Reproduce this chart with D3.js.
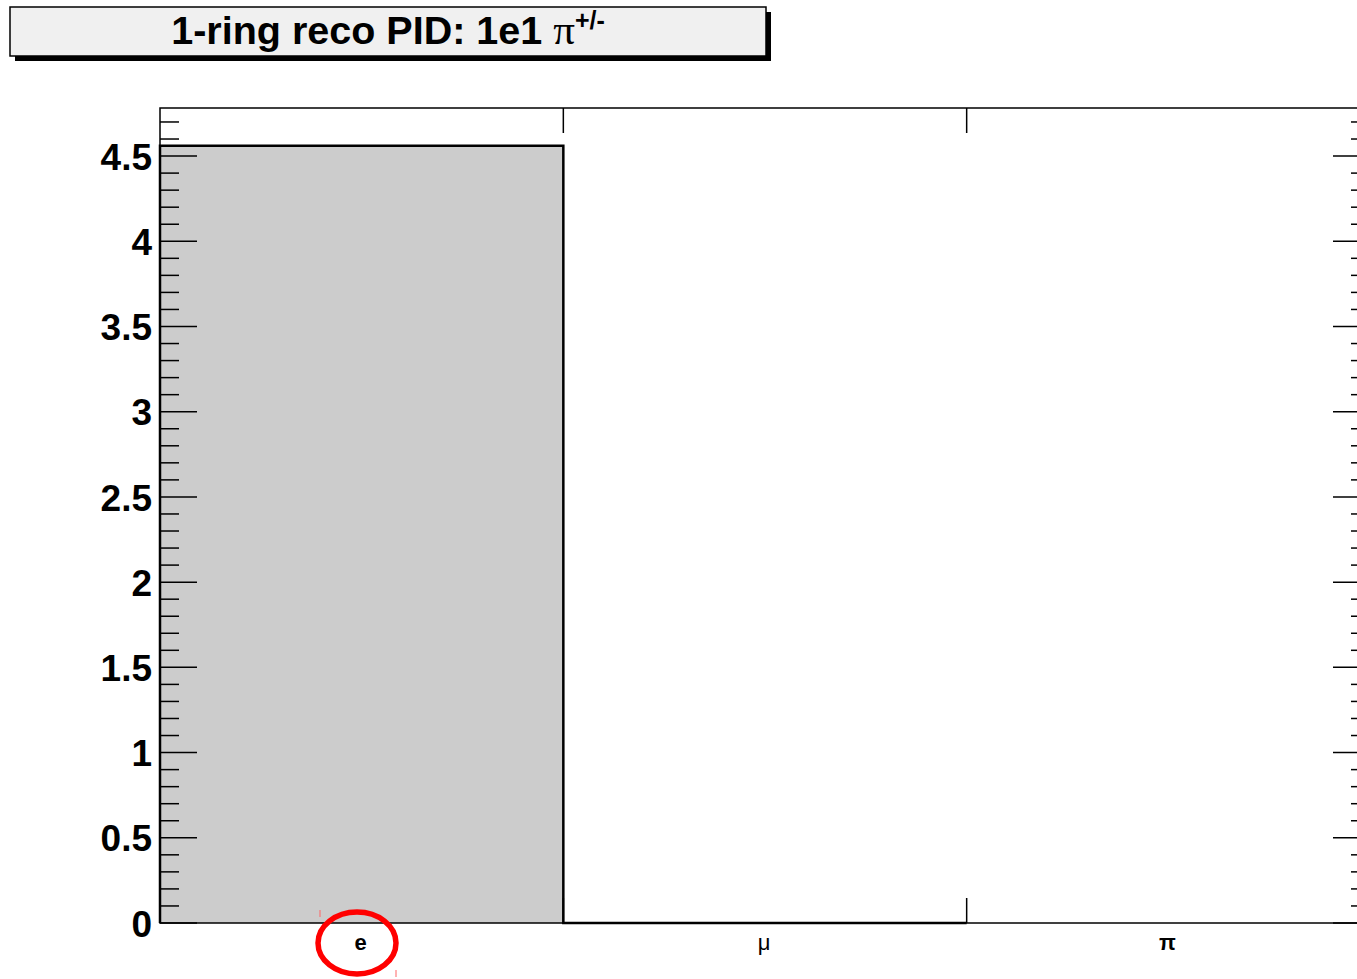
<!DOCTYPE html>
<html>
<head>
<meta charset="utf-8">
<script src="https://cdn.jsdelivr.net/npm/d3@7"></script>
<style>
  body { margin: 0; background: #fff; }
  svg { display: block; }
</style>
</head>
<body>
<svg id="chart"></svg>
<script>
// 1-ring reco PID histogram

const categories = ["e", "\u03bc", "\u03c0"];
const counts = [4.56, 0, null];
const yTickValues = [0, 0.5, 1, 1.5, 2, 2.5, 3, 3.5, 4, 4.5];
const yTickLabels = ["0", "0.5", "1", "1.5", "2", "2.5", "3", "3.5", "4", "4.5"];

function drawChart(){
  let width = 1357;
  let height = 979;
  let svg = d3.select('#chart')
    .attr("width", width)
    .attr("height", height);

  // Frame of the plotting area (right edge runs past the window).
  let frame = {left: 160, top: 108, right: 1370, bottom: 923};

  let xScale = d3.scaleBand()
    .domain(categories)
    .range([frame.left, frame.right])
    .padding(0);
  let yScale = d3.scaleLinear()
    .domain([0, 4.782])
    .range([frame.bottom, frame.top]);

  // Histogram bars, filled grey.
  let bins = categories.map((c, i) => ({cat: c, value: counts[i]}))
    .filter(d => d.value !== null);
  svg.append('g')
    .selectAll('rect')
    .data(bins)
    .join('rect')
    .attr("x", d => xScale(d.cat))
    .attr("y", d => yScale(d.value))
    .attr("width", xScale.bandwidth())
    .attr("height", d => yScale(0) - yScale(d.value))
    .attr("fill", "#cccccc");

  // Histogram outline as a step line.
  let pts = [];
  bins.forEach(d => {
    pts.push([xScale(d.cat), yScale(d.value)]);
    pts.push([xScale(d.cat) + xScale.bandwidth(), yScale(d.value)]);
  });
  pts.unshift([xScale(bins[0].cat), yScale(0)]);
  svg.append('path')
    .attr("d", d3.line()(pts))
    .attr("fill", "none")
    .attr("stroke", "#000")
    .attr("stroke-width", 2.5);

  // Frame.
  svg.append('rect')
    .attr("x", frame.left)
    .attr("y", frame.top)
    .attr("width", frame.right - frame.left)
    .attr("height", frame.bottom - frame.top)
    .attr("fill", "none")
    .attr("stroke", "#000")
    .attr("stroke-width", 1.5);

  // Left and right axes: major and minor ticks.
  let minorTicks = d3.range(0, 48).map(i => i / 10);
  let leftAxis = svg.append('g').attr("stroke", "#000").attr("stroke-width", 1.5);
  leftAxis.selectAll('line')
    .data(minorTicks)
    .join('line')
    .attr("x1", frame.left)
    .attr("x2", d => frame.left + (Math.round(d * 10) % 5 === 0 ? 37 : 19))
    .attr("y1", d => yScale(d))
    .attr("y2", d => yScale(d));
  let rightAxis = svg.append('g').attr("stroke", "#000").attr("stroke-width", 1.5);
  rightAxis.selectAll('line')
    .data(minorTicks)
    .join('line')
    .attr("x1", frame.right)
    .attr("x2", d => frame.right - (Math.round(d * 10) % 5 === 0 ? 37 : 19))
    .attr("y1", d => yScale(d))
    .attr("y2", d => yScale(d));

  svg.append('g')
    .selectAll('text')
    .data(yTickValues)
    .join('text')
    .attr("x", 152)
    .attr("y", d => yScale(d))
    .attr("dy", "0.37em")
    .attr("text-anchor", "end")
    .attr("font-family", "Liberation Sans, Arial, sans-serif")
    .attr("font-weight", "bold")
    .attr("font-size", 37)
    .text((d, i) => yTickLabels[i]);

  // X axis ticks at bin edges, bottom and top.
  let edges = categories.map(c => xScale(c)).slice(1);
  let xTicks = svg.append('g').attr("stroke", "#000").attr("stroke-width", 1.5);
  edges.forEach(x => {
    xTicks.append('line').attr("x1", x).attr("x2", x)
      .attr("y1", frame.bottom).attr("y2", frame.bottom - 25);
    xTicks.append('line').attr("x1", x).attr("x2", x)
      .attr("y1", frame.top).attr("y2", frame.top + 25);
  });

  // Category labels.
  svg.append('g')
    .selectAll('text')
    .data(categories)
    .join('text')
    .attr("x", d => xScale(d) + xScale.bandwidth() / 2 - 1)
    .attr("y", 950)
    .attr("text-anchor", "middle")
    .attr("font-family", "Liberation Sans, Arial, sans-serif")
    .attr("font-weight", (d, i) => i === 1 ? "normal" : "bold")
    .attr("font-size", 22)
    .text(d => d);

  // Title box with shadow.
  svg.append('rect')
    .attr("x", 15).attr("y", 12)
    .attr("width", 756).attr("height", 49)
    .attr("fill", "#000");
  svg.append('rect')
    .attr("x", 10).attr("y", 7)
    .attr("width", 756).attr("height", 49)
    .attr("fill", "#f0f0f0")
    .attr("stroke", "#000")
    .attr("stroke-width", 1.5);
  let title = svg.append('text')
    .attr("x", 388)
    .attr("y", 44)
    .attr("text-anchor", "middle")
    .attr("font-family", "Liberation Sans, Arial, sans-serif")
    .attr("font-weight", "bold")
    .attr("font-size", 39.5);
  title.append('tspan').text("1-ring reco PID: 1e1 ");
  title.append('tspan')
    .attr("font-family", "Liberation Serif, serif")
    .attr("font-weight", "normal")
    .attr("font-size", 43)
    .text("\u03c0");
  title.append('tspan')
    .attr("dy", -15)
    .attr("font-size", 25)
    .text("+/-");

  // Red annotation circle around the first label.
  svg.append('ellipse')
    .attr("cx", 357).attr("cy", 943)
    .attr("rx", 39).attr("ry", 31)
    .attr("fill", "none")
    .attr("stroke", "#ff0000")
    .attr("stroke-width", 5.5);
  svg.append('line').attr("x1", 320).attr("x2", 320).attr("y1", 910).attr("y2", 917)
    .attr("stroke", "#ff6666").attr("stroke-width", 1);
  svg.append('line').attr("x1", 396).attr("x2", 396).attr("y1", 970).attr("y2", 977)
    .attr("stroke", "#ff6666").attr("stroke-width", 1);
}

drawChart();
</script>
</body>
</html>
